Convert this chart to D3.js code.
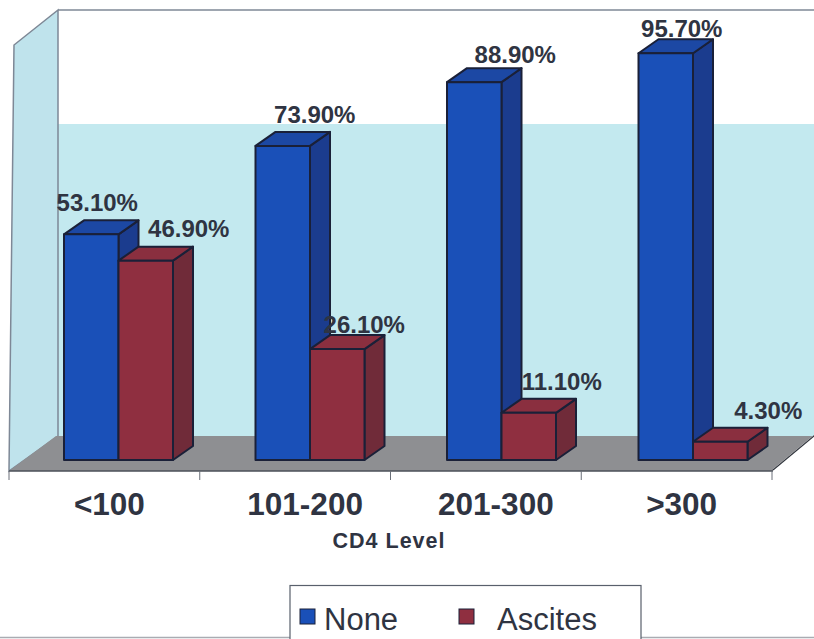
<!DOCTYPE html>
<html>
<head>
<meta charset="utf-8">
<script src="https://cdn.jsdelivr.net/npm/d3@7/dist/d3.min.js"></script>
<style>
  html, body { margin: 0; padding: 0; background: #fff; }
  svg { display: block; }
  text { font-family: "Liberation Sans", Arial, sans-serif; fill: #2f3442; }
</style>
</head>
<body>
<svg id="chart" width="814" height="639"></svg>
<script>
// Percentage of patients with and without ascites, by CD4 level
const categories = ["<100", "101-200", "201-300", ">300"];
const seriesNames = ["None", "Ascites"];
const noneValues = [53.1, 73.9, 88.9, 95.7];
const ascitesValues = [46.9, 26.1, 11.1, 4.3];
const axisTitle = "CD4 Level";

const seriesValues = [noneValues, ascitesValues];

// Label offsets from the top-centre of each bar's front face: [dx, dy]
const labelOffsets = [
  [[6, -23], [43, -24]],
  [[32, -23], [27, -16]],
  [[41, -19], [33, -23]],
  [[16, -16], [48, -23]]
];
// Horizontal nudge of each category label from its band centre
const categoryNudge = [5, 10, 10, 5];

const palette = [
  { front: "#1a50b8", top: "#1c48a4", side: "#1b3c8e" },
  { front: "#8f2f40", top: "#8a2f3f", side: "#702b39" }
];
const stroke = "#1a2038";
const depth = { x: 20, y: -14 };

const svg = d3.select("#chart");

const xGroup = d3.scaleBand().domain(d3.range(categories.length)).range([9, 775]);
const xTick = d3.scaleBand().domain(d3.range(categories.length)).range([9, 772]);
const xBar = d3.scaleBand().domain(d3.range(seriesNames.length)).range([55, 164]);
const y = d3.scaleLinear().domain([0, 100]).range([460, 35]);

const pts = a => a.map(p => p.join(",")).join(" ");

// Walls and floor
svg.append("polygon").attr("points", pts([[58, 124], [814, 124], [814, 436], [58, 436]]))
  .attr("fill", "#c3e9ef");
svg.append("polygon").attr("points", pts([[14, 45], [58, 10], [58, 436], [9, 471]]))
  .attr("fill", "#bfe3ec").attr("stroke", "#7e8896").attr("stroke-width", 1.5);
svg.append("line").attr("x1", 58).attr("x2", 814).attr("y1", 10).attr("y2", 10)
  .attr("stroke", "#7e8896").attr("stroke-width", 1.5);
svg.append("polygon").attr("points", pts([[9, 471], [56, 436], [814, 436], [814, 435], [773, 469], [773, 471]]))
  .attr("fill", "#8e8f92");
svg.append("line").attr("x1", 9).attr("x2", 773).attr("y1", 471).attr("y2", 471)
  .attr("stroke", "#4b5058").attr("stroke-width", 1.5);
svg.append("line").attr("x1", 773).attr("x2", 814).attr("y1", 470).attr("y2", 436)
  .attr("stroke", "#30343c").attr("stroke-width", 1.2);

// Category ticks along the floor edge
const tickXs = categories.map((_, i) => xTick(i)).concat(xTick.range()[1]);
svg.append("g").selectAll("line").data(tickXs).join("line")
  .attr("x1", d => d).attr("x2", d => d).attr("y1", 471).attr("y2", 480)
  .attr("stroke", "#6a6f78").attr("stroke-width", 1);

// Extruded bars, blue before red so the red face sits on top
const bars = categories.flatMap((c, i) =>
  seriesValues.map((vals, s) => ({ i, s, v: vals[i] })));

const barGroup = svg.append("g").attr("stroke", stroke).attr("stroke-width", 2)
  .attr("stroke-linejoin", "round");

bars.forEach(d => {
  const x0 = xGroup(d.i) + xBar(d.s);
  const x1 = x0 + xBar.bandwidth();
  const yt = y(d.v), yb = y(0);
  const c = palette[d.s];
  const g = barGroup.append("g");
  g.append("polygon").attr("fill", c.side)
    .attr("points", pts([[x1, yt], [x1 + depth.x, yt + depth.y], [x1 + depth.x, yb + depth.y], [x1, yb]]));
  g.append("polygon").attr("fill", c.top)
    .attr("points", pts([[x0, yt], [x0 + depth.x, yt + depth.y], [x1 + depth.x, yt + depth.y], [x1, yt]]));
  g.append("rect").attr("fill", c.front)
    .attr("x", x0).attr("y", yt).attr("width", x1 - x0).attr("height", yb - yt);
});

// Value labels
svg.append("g").selectAll("text").data(bars).join("text")
  .attr("x", d => xGroup(d.i) + xBar(d.s) + xBar.bandwidth() / 2 + labelOffsets[d.i][d.s][0])
  .attr("y", d => y(d.v) + labelOffsets[d.i][d.s][1])
  .attr("text-anchor", "middle")
  .attr("font-size", 24).attr("font-weight", 700)
  .text(d => d.v.toFixed(2) + "%");

// Category labels and axis title
svg.append("g").selectAll("text").data(categories).join("text")
  .attr("x", (d, i) => xTick(i) + xTick.bandwidth() / 2 + categoryNudge[i])
  .attr("y", 515)
  .attr("text-anchor", "middle")
  .attr("font-size", 31.5).attr("font-weight", 700)
  .text(d => d);

svg.append("text").attr("x", 389).attr("y", 548).attr("text-anchor", "middle")
  .attr("font-size", 21.5).attr("font-weight", 700).attr("letter-spacing", 1).text(axisTitle);

// Legend box, cut off by the bottom edge
svg.append("line").attr("x1", 0).attr("x2", 814).attr("y1", 637.5).attr("y2", 637.5)
  .attr("stroke", "#a9acb2").attr("stroke-width", 1.5);
svg.append("rect").attr("x", 290).attr("y", 585.5).attr("width", 351).attr("height", 60)
  .attr("fill", "#fff").attr("stroke", "#59606c").attr("stroke-width", 1.2);

const legendMarkX = [300, 459];
const legendTextX = [324, 497];
const legend = svg.append("g").selectAll("g").data(seriesNames).join("g");
legend.append("rect")
  .attr("x", (d, i) => legendMarkX[i]).attr("y", 609)
  .attr("width", 15).attr("height", 15)
  .attr("fill", (d, i) => palette[i].front)
  .attr("stroke", stroke).attr("stroke-width", 1);
legend.append("text")
  .attr("x", (d, i) => legendTextX[i]).attr("y", 630)
  .attr("font-size", 31)
  .text(d => d);
</script>
</body>
</html>
